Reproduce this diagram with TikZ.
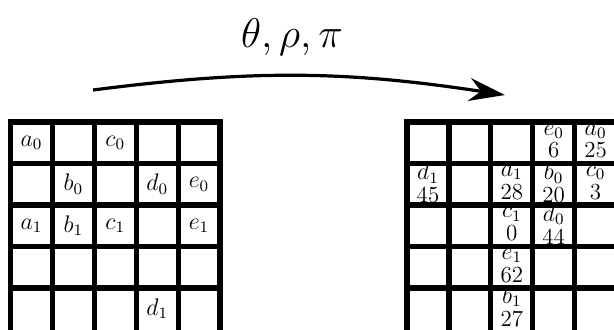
\documentclass[tikz,border=0pt]{standalone}
\usepackage{amsmath,amssymb}
\usetikzlibrary{arrows.meta}
\newcommand{\cw}{41.9}
\newcommand{\ch}{41.5}

\begin{document}
\begin{tikzpicture}[x=0.5pt,y=-0.5pt,
  grid/.style={line width=2.6pt,line cap=rect},
  cell/.style={inner sep=0pt,align=center,font=\fontsize{11.5}{11.4}\selectfont},
  arr/.style={-{Stealth[length=18pt,width=11.5pt]},line width=1.6pt}]
\useasboundingbox (0,0) rectangle (614,329);
\clip (0,0) rectangle (614,329);
\foreach \gx in {10.5,407}{
  \foreach \i in {0,...,5} \draw[grid] (\gx+\i*\cw,122) -- (\gx+\i*\cw,345);
  \foreach \j in {0,...,4} \draw[grid] (\gx,122+\j*\ch) -- (\gx+5*\cw,122+\j*\ch);
}
\node[cell] (la0) at (31.5,143) {$a_0$};
\node[cell] (lc0) at (115.3,143) {$c_0$};
\node[cell] (lb0) at (73.4,184.3) {$b_0$};
\node[cell] (ld0) at (157.2,184.3) {$d_0$};
\node[cell] (le0) at (199,184.3) {$e_0$};
\node[cell] (la1) at (31.5,225.8) {$a_1$};
\node[cell] (lb1) at (73.4,225.8) {$b_1$};
\node[cell] (lc1) at (115.3,225.8) {$c_1$};
\node[cell] (le1) at (199,225.8) {$e_1$};
\node[cell] (ld1) at (157.2,308.8) {$d_1$};
\node[cell] (re0) at (553.7,141.5) {$e_0$\\6};
\node[cell] (ra0) at (595.6,141.5) {$a_0$\\25};
\node[cell] (rd1) at (428,182.8) {$d_1$\\45};
\node[cell] (ra1) at (511.8,182.8) {$a_1$\\28};
\node[cell] (rb0) at (553.7,182.8) {$b_0$\\20};
\node[cell] (rc0) at (595.6,182.8) {$c_0$\\3};
\node[cell] (rc1) at (511.8,224.3) {$c_1$\\0};
\node[cell] (rd0) at (553.7,224.3) {$d_0$\\44};
\node[cell] (re1) at (511.8,265.8) {$e_1$\\62};
\node[cell] (rb1) at (511.8,306.5) {$b_1$\\27};
\coordinate (src) at (93,90);
\coordinate (dst) at (505,95);
\draw[arr] (src) to[bend left=8] (dst);
\node[font=\fontsize{20.5}{23}\selectfont] (lbl) at (292,37) {$\theta, \rho, \pi$};
\end{tikzpicture}
\end{document}
